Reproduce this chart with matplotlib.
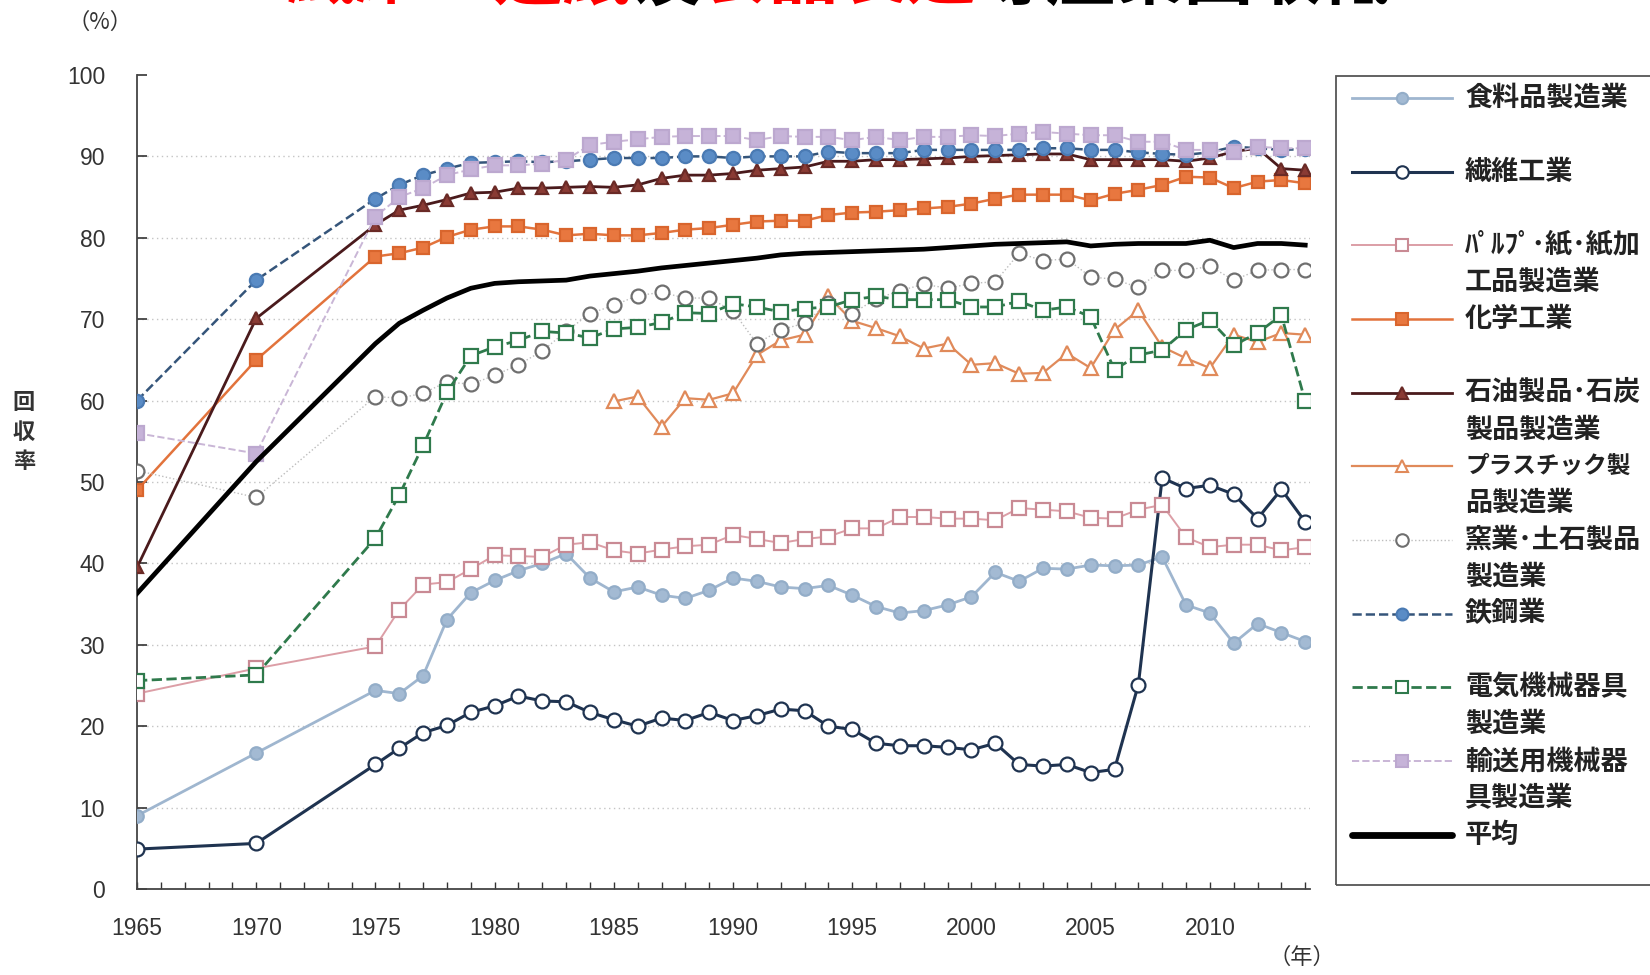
import matplotlib
matplotlib.use("Agg")
import matplotlib.pyplot as plt
from matplotlib.lines import Line2D
from matplotlib.patches import Rectangle

plt.rcParams['font.family'] = ['Noto Sans CJK JP', 'DejaVu Sans']

# 年 (1965, 1970, 1975-2014)
years = [1965, 1970] + list(range(1975, 2015))
years_plastic = list(range(1985, 2015))

food = [9.0, 16.7,
        24.4, 24.0, 26.2, 33.1, 36.4, 37.9, 39.1, 40.0, 41.2, 38.2,
        36.5, 37.1, 36.1, 35.7, 36.7, 38.2, 37.8, 37.1, 36.9, 37.3,
        36.1, 34.7, 33.9, 34.2, 34.9, 35.9, 38.9, 37.8, 39.4, 39.3,
        39.8, 39.7, 39.8, 40.8, 34.9, 33.9, 30.2, 32.6, 31.5, 30.4]
textile = [4.9, 5.6,
           15.3, 17.3, 19.2, 20.1, 21.7, 22.5, 23.7, 23.1, 23.0, 21.7,
           20.8, 20.0, 21.0, 20.7, 21.7, 20.7, 21.3, 22.1, 21.9, 20.0,
           19.6, 17.9, 17.6, 17.6, 17.4, 17.1, 17.9, 15.3, 15.1, 15.3,
           14.3, 14.7, 25.1, 50.5, 49.2, 49.6, 48.5, 45.5, 49.1, 45.1]
pulp = [24.0, 27.1,
        29.8, 34.3, 37.4, 37.7, 39.3, 41.0, 40.9, 40.8, 42.3, 42.6,
        41.6, 41.2, 41.7, 42.1, 42.3, 43.5, 43.0, 42.5, 43.0, 43.3,
        44.3, 44.3, 45.7, 45.7, 45.5, 45.5, 45.3, 46.8, 46.6, 46.4,
        45.6, 45.5, 46.6, 47.2, 43.2, 42.0, 42.3, 42.3, 41.6, 42.0]
chemical = [49.0, 65.0,
            77.7, 78.1, 78.8, 80.1, 81.0, 81.4, 81.4, 81.0, 80.3, 80.5,
            80.3, 80.3, 80.6, 81.0, 81.2, 81.6, 82.0, 82.1, 82.1, 82.8,
            83.1, 83.2, 83.4, 83.6, 83.8, 84.2, 84.8, 85.3, 85.3, 85.3,
            84.6, 85.4, 85.9, 86.5, 87.5, 87.4, 86.1, 86.9, 87.1, 86.7]
petroleum = [39.5, 70.1,
             81.6, 83.4, 84.0, 84.7, 85.5, 85.6, 86.1, 86.1, 86.2, 86.3,
             86.2, 86.5, 87.3, 87.7, 87.7, 87.9, 88.3, 88.5, 88.7, 89.4,
             89.4, 89.6, 89.6, 89.7, 89.8, 90.0, 90.1, 90.2, 90.3, 90.3,
             89.6, 89.6, 89.6, 89.6, 89.4, 89.8, 90.6, 91.0, 88.5, 88.3]
plastic = [59.9, 60.5, 56.8, 60.3, 60.1, 60.9, 65.6, 67.4, 68.1, 72.8,
           69.8, 68.9, 67.9, 66.4, 67.0, 64.4, 64.6, 63.3, 63.4, 65.8,
           64.0, 68.7, 71.1, 66.6, 65.2, 64.0, 68.1, 67.2, 68.3, 68.1]
ceramic = [51.4, 48.1,
           60.5, 60.3, 60.9, 62.3, 62.0, 63.1, 64.4, 66.1, 68.5, 70.7,
           71.7, 72.9, 73.3, 72.6, 72.6, 71.0, 67.0, 68.7, 69.5, 72.0,
           70.7, 72.5, 73.5, 74.3, 73.8, 74.4, 74.6, 78.1, 77.2, 77.4,
           75.2, 74.9, 73.9, 76.0, 76.0, 76.5, 74.8, 76.0, 76.1, 76.1]
steel = [60.0, 74.8,
         84.8, 86.5, 87.7, 88.5, 89.2, 89.3, 89.4, 89.3, 89.4, 89.6,
         89.8, 89.8, 89.8, 90.0, 90.0, 89.8, 90.0, 90.0, 90.0, 90.6,
         90.4, 90.4, 90.4, 90.8, 90.8, 90.8, 90.8, 90.8, 91.0, 91.0,
         90.8, 90.8, 90.5, 90.3, 90.2, 90.5, 91.2, 91.0, 90.8, 90.9]
electric = [25.6, 26.3,
            43.1, 48.4, 54.5, 61.0, 65.5, 66.6, 67.4, 68.5, 68.3, 67.7,
            68.8, 69.0, 69.6, 70.8, 70.7, 71.9, 71.5, 70.9, 71.3, 71.5,
            72.4, 72.8, 72.4, 72.4, 72.4, 71.5, 71.5, 72.2, 71.1, 71.5,
            70.3, 63.8, 65.6, 66.2, 68.7, 69.9, 66.8, 68.3, 70.5, 59.9]
transport = [56.0, 53.5,
             82.6, 85.0, 86.1, 87.7, 88.4, 88.9, 88.9, 89.1, 89.6, 91.4,
             91.8, 92.1, 92.4, 92.5, 92.5, 92.5, 92.0, 92.5, 92.4, 92.4,
             92.0, 92.4, 92.0, 92.4, 92.4, 92.6, 92.5, 92.8, 93.0, 92.8,
             92.6, 92.6, 91.8, 91.8, 90.8, 90.8, 90.5, 91.2, 91.0, 91.0]
average = [36.3, 52.5,
           67.0, 69.5, 71.1, 72.6, 73.8, 74.4, 74.6, 74.7, 74.8, 75.3,
           75.6, 75.9, 76.3, 76.6, 76.9, 77.2, 77.5, 77.9, 78.1, 78.2,
           78.3, 78.4, 78.5, 78.6, 78.8, 79.0, 79.2, 79.3, 79.4, 79.5,
           79.0, 79.2, 79.3, 79.3, 79.3, 79.7, 78.8, 79.3, 79.3, 79.1]

# 系列ごとの線種・マーカー
series = [
    dict(x=years, y=food, label=["食料品製造業"], color="#9fb6cf", ls="-", lw=2.0,
         marker="o", mfc="#a3bad3", mec="#93adc8", ms=9),
    dict(x=years, y=textile, label=["繊維工業"], color="#1f3350", ls="-", lw=2.2,
         marker="o", mfc="white", mec="#1f3350", ms=10),
    dict(x=years, y=pulp, label=["ﾊﾟﾙﾌﾟ･紙･紙加", "工品製造業"], color="#dc9ea6", ls="-", lw=1.4,
         marker="s", mfc="white", mec="#c98a94", ms=10),
    dict(x=years, y=chemical, label=["化学工業"], color="#e2733c", ls="-", lw=1.8,
         marker="s", mfc="#e8773f", mec="#d9652d", ms=9),
    dict(x=years, y=petroleum, label=["石油製品･石炭", "製品製造業"], color="#4a1a1c", ls="-", lw=2.0,
         marker="^", mfc="#8a3b34", mec="#6a2a26", ms=9),
    dict(x=years_plastic, y=plastic, label=["プラスチック製", "品製造業"], color="#e08a5a", ls="-", lw=1.6,
         marker="^", mfc="white", mec="#e08a5a", ms=10),
    dict(x=years, y=ceramic, label=["窯業･土石製品", "製造業"], color="#bdbdbd", ls=":", lw=1.0,
         marker="o", mfc="white", mec="#6f6f6f", ms=10),
    dict(x=years, y=steel, label=["鉄鋼業"], color="#35557a", ls="--", lw=1.8,
         marker="o", mfc="#5a8cc6", mec="#4a7ab3", ms=9.5),
    dict(x=years, y=electric, label=["電気機械器具", "製造業"], color="#2f7a4c", ls="--", lw=2.0,
         marker="s", mfc="white", mec="#2f7a4c", ms=10),
    dict(x=years, y=transport, label=["輸送用機械器", "具製造業"], color="#c9b6d6", ls="--", lw=1.4,
         marker="s", mfc="#c6b3d8", mec="#bca8cf", ms=10),
    dict(x=years, y=average, label=["平均"], color="black", ls="-", lw=3.4,
         marker=None, mfc="none", mec="none", ms=0),
]

W, H = 1650, 975
fig = plt.figure(figsize=(W / 100, H / 100), dpi=100)
ax = fig.add_axes([137 / W, 1 - 889 / H, (1310 - 137) / W, (889 - 75) / H])


def fx(px):
    return px / W


def fy(py):
    return 1 - py / H


# 目盛り線
for v in range(10, 100, 10):
    ax.axhline(v, color="#c4c4c4", lw=1.0, ls=(0, (1, 2.5)), zorder=0)

draw_order = [6, 2, 0, 1, 5, 8, 3, 4, 9, 7, 10]
for i in draw_order:
    s = series[i]
    ax.plot(s["x"], s["y"], color=s["color"], ls=s["ls"], lw=s["lw"],
            marker=s["marker"], mfc=s["mfc"], mec=s["mec"], ms=s["ms"],
            mew=1.6, zorder=3 + i * 0.1)

ax.set_xlim(1965, 2014.2)
ax.set_ylim(0, 100)
ax.set_yticks(range(0, 101, 10))
ax.set_xticks(range(1965, 2015))
ax.set_xticklabels([str(y) if y % 5 == 0 else "" for y in range(1965, 2015)])
ax.tick_params(axis="y", direction="in", length=7, width=1.2, pad=23,
               labelsize=16.5, colors="#333333")
ax.tick_params(axis="x", direction="in", length=5, width=1.0, pad=20,
               labelsize=16.5, colors="#333333")
for lab in ax.get_xticklabels() + ax.get_yticklabels():
    lab.set_family(["Liberation Sans", "DejaVu Sans"])
for side in ("top", "right"):
    ax.spines[side].set_visible(False)
for side in ("left", "bottom"):
    ax.spines[side].set_color("#444444")
    ax.spines[side].set_linewidth(1.3)

# 軸の単位と見出し
fig.text(fx(100), fy(22), "（%）", ha="center", va="center", fontsize=16, color="#333333")
fig.text(fx(1302), fy(957), "（年）", ha="center", va="center", fontsize=16, color="#333333")
fig.text(fx(24), fy(432), "回\n収\n率", ha="center", va="center", fontsize=16,
         fontweight="bold", linespacing=1.35, color="#333333")

# タイトル (上端で切れている)
title_parts = [("纖維", "red"), ("、", "black"), ("造紙", "red"), ("及", "black"),
               ("食品製造", "red"), ("等產業回收低", "black")]
em = 69
x0 = 287
for txt, col in title_parts:
    fig.text(fx(x0), fy(14), txt, ha="left", va="bottom", fontsize=em * 0.72,
             fontweight="bold", color=col,
             family=["Noto Sans CJK TC", "Noto Sans CJK JP"])
    x0 += em * len(txt)

# 凡例
fig.add_artist(Rectangle((fx(1336), fy(885)), fx(1700 - 1336), (885 - 76) / H,
                         transform=fig.transFigure, fill=False,
                         edgecolor="#555555", lw=1.3))
row_y = [98, 171.5, 245, 319, 392.5, 466, 540, 613.5, 687, 761, 834.5]
for s, ry in zip(series, row_y):
    lx = [fx(1352), fx(1402), fx(1452)]
    ly = [fy(ry)] * 3
    if s["marker"] is None:
        h = Line2D(lx, ly, color=s["color"], lw=s["lw"] + 1.5, ls=s["ls"],
                   transform=fig.transFigure, solid_capstyle="round")
    else:
        h = Line2D(lx, ly, color=s["color"], lw=s["lw"], ls=s["ls"],
                   marker=s["marker"], markevery=[1], mfc=s["mfc"], mec=s["mec"],
                   ms=s["ms"] * 0.9, mew=1.5, transform=fig.transFigure)
    fig.add_artist(h)
    for k, line in enumerate(s["label"]):
        # 全角カナが7文字並ぶ行は枠内に収まるよう少し小さく
        size = 17 if len(line) >= 7 and line[0] == "プ" else 19.5
        fig.text(fx(1465), fy(ry + 37 * k), line, ha="left", va="center",
                 fontsize=size, fontweight="bold", color="#222222")

fig.savefig("out.png", dpi=100, facecolor="white")
